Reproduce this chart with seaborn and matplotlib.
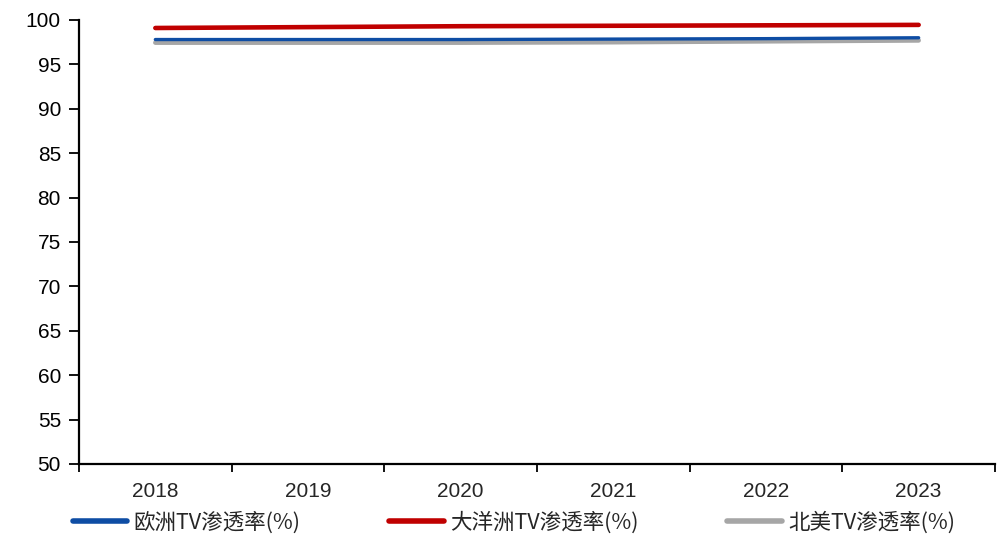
import matplotlib
matplotlib.use("Agg")
import matplotlib.pyplot as plt
import seaborn as sns
import pandas as pd
import numpy as np

# TV penetration by region (%)
years = ["2018", "2019", "2020", "2021", "2022", "2023"]
europe = [97.8, 97.8, 97.8, 97.85, 97.9, 98.0]
oceania = [99.1, 99.2, 99.3, 99.35, 99.4, 99.45]
north_america = [97.45, 97.45, 97.45, 97.5, 97.6, 97.7]
series_names = ["欧洲TV渗透率(%)", "大洋洲TV渗透率(%)", "北美TV渗透率(%)"]
y_ticks = [50, 55, 60, 65, 70, 75, 80, 85, 90, 95, 100]

colors = ["#0E4DA4", "#C00000", "#A6A6A6"]
widths = [2.4, 3.3, 3.3]

sns.set_style("white")
plt.rcParams["font.family"] = ["Liberation Sans", "Noto Sans CJK SC", "DejaVu Sans"]

df = pd.DataFrame({
    "year": years * 3,
    "value": europe + oceania + north_america,
    "series": sum([[n] * len(years) for n in series_names], []),
})

fig = plt.figure(figsize=(10.04, 5.40), dpi=100)
ax = fig.add_axes([79 / 1004, 76 / 540, (995 - 79) / 1004, (464 - 20) / 540])

sns.lineplot(data=df, x="year", y="value", hue="series", hue_order=series_names,
             palette=colors, ax=ax, legend=False, sort=False)

for line, lw, z in zip(ax.lines, widths, [4, 3, 2]):
    line.set_linewidth(lw)
    line.set_solid_capstyle("round")
    line.set_zorder(z)

ax.set_ylim(50, 100)
ax.set_xlim(-0.5, len(years) - 0.5)
ax.set_yticks(y_ticks)
ax.set_yticklabels([str(v) for v in y_ticks], fontsize=15)

# category boundaries carry the tick marks, centres carry the labels
ax.set_xticks(np.arange(-0.5, len(years), 1.0))
ax.set_xticklabels([])
ax.set_xticks(np.arange(len(years)), minor=True)
ax.set_xticklabels(years, minor=True, fontsize=15)
ax.tick_params(axis="x", which="major", bottom=True, direction="out", length=6,
               width=1.3, colors="black")
ax.tick_params(axis="x", which="minor", bottom=True, length=0, pad=13)
ax.tick_params(axis="y", left=True, direction="out", length=7, width=1.3, pad=6,
               colors="black")
ax.set_xlabel("")
ax.set_ylabel("")

for side in ["top", "right"]:
    ax.spines[side].set_visible(False)
for side in ["left", "bottom"]:
    ax.spines[side].set_linewidth(1.6)
    ax.spines[side].set_color("black")

handles = [plt.Line2D([], [], color=c, lw=4.0, solid_capstyle="round") for c in colors]
fig.legend(handles, series_names, loc="center", bbox_to_anchor=(0.512, 0.033), ncol=3,
           frameon=False, handlelength=2.55, handletextpad=0.3, columnspacing=4.1,
           prop={"family": ["Noto Sans CJK SC", "DejaVu Sans"], "size": 15.5})

fig.savefig("out.png", dpi=100)
